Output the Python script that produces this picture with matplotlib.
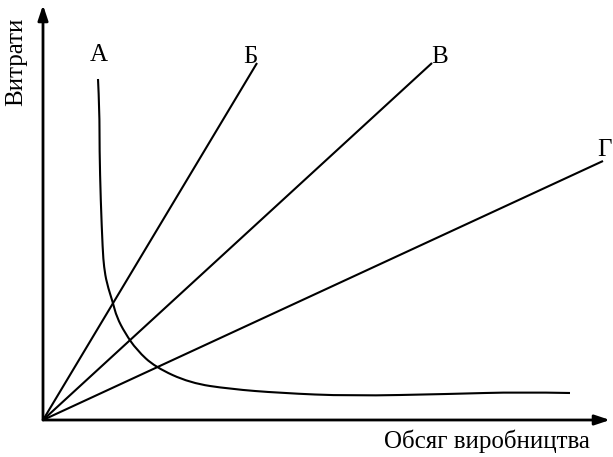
import matplotlib
matplotlib.use("Agg")
import matplotlib.pyplot as plt
from matplotlib.path import Path
from matplotlib.patches import PathPatch

# Data in arbitrary units (origin at the axis corner)
line_names = ["Б", "В", "Г"]
line_end_x = [214, 389, 560]
line_end_y = [357, 357, 259]

curve_name = "А"
curve_x = [55, 56.5, 56.5, 57.7, 59.7, 61, 63.7, 70, 73.7, 82, 93.7, 112, 147, 187, 237, 307, 407, 477, 527]
curve_y = [341, 310, 270, 220, 170, 153, 137, 117, 103, 87, 70, 53, 37, 31, 27, 24, 26, 28, 27]

x_label = "Обсяг виробництва"
y_label = "Витрати"

plt.rcParams['font.family'] = ['Liberation Serif', 'DejaVu Serif']

fig = plt.figure(figsize=(6.13, 4.57), dpi=100)
ax = fig.add_axes([0, 0, 1, 1])
ax.set_xlim(-43, 570)
ax.set_ylim(-37, 420)
ax.axis('off')

lw = 1.5
# axes with arrows
ax.annotate("", xy=(0, 415), xytext=(0, 0),
            arrowprops=dict(arrowstyle="-|>,head_length=0.9,head_width=0.3",
                            color="black", lw=2, shrinkA=0, shrinkB=0))
ax.annotate("", xy=(567, 0), xytext=(0, 0),
            arrowprops=dict(arrowstyle="-|>,head_length=0.9,head_width=0.3",
                            color="black", lw=2, shrinkA=0, shrinkB=0))

for name, ex, ey in zip(line_names, line_end_x, line_end_y):
    ax.plot([0, ex], [0, ey], color="black", lw=lw, solid_capstyle="butt")

# smooth curve through the read points (quadratic B-spline style path)
pts = list(zip(curve_x, curve_y))
verts = [pts[0]]
codes = [Path.MOVETO]
for i in range(1, len(pts) - 1):
    mid = ((pts[i][0] + pts[i + 1][0]) / 2, (pts[i][1] + pts[i + 1][1]) / 2)
    if i == len(pts) - 2:
        mid = pts[i + 1]
    verts += [pts[i], mid]
    codes += [Path.CURVE3, Path.CURVE3]
ax.add_patch(PathPatch(Path(verts, codes), facecolor="none", edgecolor="black", lw=lw))

fs = 18
ax.text(56, 365, curve_name, fontsize=fs, ha="center", va="center")
ax.text(207, 363, "Б", fontsize=fs, ha="center", va="center")
ax.text(397, 363, "В", fontsize=fs, ha="center", va="center")
ax.text(561, 270, "Г", fontsize=fs, ha="center", va="center")

ax.text(444, -21, x_label, fontsize=fs, ha="center", va="center")
ax.text(-27, 358, y_label, fontsize=fs, ha="center", va="center", rotation=90)

fig.savefig("out.png", dpi=100)
